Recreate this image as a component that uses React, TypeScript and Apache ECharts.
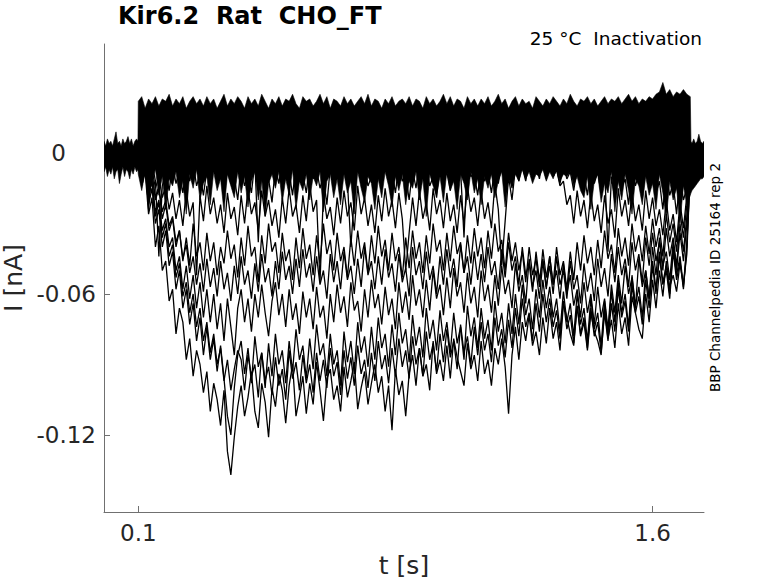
import React, { useEffect, useRef } from "react";
import * as echarts from "echarts";

// ---- axis / labels ----
const X_MIN = 0;
const X_MAX = 1.75;
const Y_MIN = -0.1528;
const Y_MAX = 0.0464;
const X_TICKS = [0.1, 1.6];
const Y_TICKS = [-0.12, -0.06, 0];
const TITLE = "Kir6.2  Rat  CHO_FT";
const SUBTITLE = "25 °C  Inactivation";
const SIDE_NOTE = "BBP Channelpedia ID 25164 rep 2";

// ---- data (currents in pA) ----
// sweep samples: t = 0.10 s ... 1.71 s, every 0.01 s
const T0 = 0.1;
const DT = 0.01;

// baseline before the step (t in s)
const PRE_T = [0, 0.005, 0.01, 0.015, 0.02, 0.025, 0.03, 0.035, 0.04, 0.045, 0.05, 0.055, 0.06, 0.065, 0.07, 0.075, 0.08, 0.085, 0.09, 0.095, 0.099];
const PRE_HI = [5, 3, 6, 4, 5, 3, 6, 9, 4, 5, 3, 6, 4, 5, 7, 4, 6, 3, 5, 6, 5];
const PRE_LO = [-8, -6, -10, -7, -9, -6, -11, -8, -7, -13, -9, -6, -10, -7, -8, -11, -7, -9, -6, -8, -7];

// dense envelope of all sweeps during the step
const BAND_HI = [
  22, 24, 19, 23, 21, 24, 20, 23, 22, 25,
  20, 23, 21, 24, 19, 22, 24, 21, 23, 20,
  24, 21, 23, 19, 22, 25, 20, 23, 21, 24,
  22, 19, 24, 21, 23, 20, 25, 22, 19, 23,
  21, 24, 20, 23, 22, 25, 21, 19, 24, 22,
  23, 20, 22, 25, 21, 24, 19, 23, 22, 20,
  24, 21, 23, 20, 22, 24, 21, 25, 20, 23,
  22, 19, 23, 21, 24, 20, 22, 23, 21, 24,
  20, 23, 22, 19, 24, 21, 23, 20, 22, 25,
  21, 24, 20, 23, 22, 19, 24, 21, 23, 20,
  23, 21, 24, 20, 22, 25, 21, 23, 19, 22,
  24, 20, 23, 21, 22, 19, 24, 22, 20, 23,
  21, 24, 22, 20, 23, 21, 25, 22, 20, 23,
  22, 24, 21, 23, 20, 22, 24, 21, 23, 22,
  24, 21, 23, 25, 22, 24, 21, 23, 22, 24,
  23, 25, 26, 30, 25, 27, 24, 26, 25, 27, 25,
  24,
];
const BAND_LO = [
  -9, -16, -8, -21, -12, -7, -18, -10, -24, -11,
  -14, -8, -19, -12, -26, -9, -15, -7, -20, -13,
  -10, -22, -8, -16, -11, -25, -9, -14, -19, -8,
  -17, -10, -23, -12, -8, -20, -11, -27, -13, -9,
  -15, -8, -21, -11, -18, -7, -24, -12, -16, -9,
  -20, -10, -14, -8, -25, -12, -9, -19, -11, -22,
  -9, -17, -12, -26, -8, -15, -21, -10, -13, -24,
  -11, -19, -8, -14, -23, -10, -16, -9, -22, -12,
  -15, -8, -20, -11, -27, -9, -14, -18, -10, -21,
  -8, -16, -12, -24, -9, -13, -20, -8, -17, -11,
  -22, -10, -15, -9, -19, -12, -8, -23, -11, -14,
  -9, -12, -7, -11, -8, -13, -9, -10, -7, -12,
  -8, -11, -7, -12, -9, -10, -8, -14, -10, -16,
  -19, -10, -24, -12, -9, -21, -13, -17, -8, -25,
  -12, -20, -9, -16, -26, -11, -14, -22, -10, -18,
  -13, -24, -9, -17, -28, -12, -20, -15, -30, -14, -22,
  -18,
];

// tail after the step
const TAIL_T = [1.712, 1.715, 1.72, 1.725, 1.73, 1.735, 1.74, 1.745, 1.75];
const TAIL_HI = [5, 4, 6, 4, 5, 8, 5, 4, 5];
const TAIL_LO = [-17, -16, -15, -14, -13, -12, -11, -11, -10];

// individual sweeps that go inward
const SWEEP_1 = [
  -3, -14, -8, -26, -19, -40, -31, -50, -46, -63,
  -58, -77, -66, -72, -88, -79, -95, -84, -90, -102,
  -93, -110, -98, -105, -116, -101, -127, -137, -121, -108,
  -99, -112, -104, -93, -110, -117, -98, -106, -121, -100,
  -108, -94, -101, -115, -99, -90, -112, -104, -95, -111,
  -98, -107, -89, -101, -114, -96, -92, -105, -99, -110,
  -91, -104, -97, -89, -109, -100, -93, -107, -98, -90,
  -102, -95, -110, -99, -118, -92, -103, -97, -112, -94,
  -86, -99, -83, -95, -90, -101, -80, -94, -88, -97,
  -82, -96, -79, -87, -93, -99, -81, -92, -86, -97,
  -80, -94, -88, -99, -83, -90, -79, -91, -111, -86,
  -74, -88, -72, -80, -69, -82, -76, -86, -70, -81,
  -66, -79, -72, -84, -64, -70, -77, -82, -65, -78,
  -72, -84, -68, -76, -80, -86, -66, -79, -71, -83,
  -64, -77, -70, -82, -61, -68, -75, -79, -60, -72,
  -54, -66, -50, -61, -46, -57, -52, -59, -47, -56, -43,
  -6,
];
const SWEEP_2 = [
  -2, -10, -6, -18, -12, -25, -20, -33, -28, -40,
  -36, -50, -44, -58, -48, -62, -52, -66, -55, -70,
  -58, -72, -60, -75, -64, -80, -62, -74, -86, -66,
  -58, -72, -62, -76, -60, -70, -56, -68, -78, -63,
  -55, -69, -60, -74, -58, -71, -64, -77, -59, -70,
  -62, -75, -57, -70, -65, -79, -60, -72, -56, -68,
  -61, -74, -55, -67, -63, -76, -58, -70, -54, -66,
  -60, -73, -57, -69, -62, -75, -55, -68, -59, -71,
  -52, -65, -58, -70, -54, -67, -50, -62, -56, -69,
  -53, -66, -49, -61, -55, -68, -51, -64, -57, -70,
  -50, -63, -56, -68, -52, -65, -48, -60, -54, -66,
  -47, -59, -52, -64, -45, -57, -50, -62, -46, -58,
  -44, -56, -50, -62, -47, -60, -52, -65, -58, -70,
  -55, -68, -60, -73, -57, -70, -62, -75, -56, -68,
  -52, -64, -48, -60, -53, -66, -45, -57, -50, -62,
  -40, -52, -36, -48, -42, -54, -38, -50, -34, -46, -30,
  -5,
];
const SWEEP_3 = [
  -1, -8, -4, -14, -9, -20, -15, -28, -22, -33,
  -28, -40, -33, -46, -36, -48, -30, -44, -38, -50,
  -34, -46, -38, -52, -40, -47, -33, -45, -39, -53,
  -36, -48, -31, -44, -40, -55, -35, -47, -30, -42,
  -38, -51, -34, -46, -41, -54, -36, -49, -32, -45,
  -39, -52, -35, -47, -30, -43, -37, -50, -34, -46,
  -40, -53, -36, -48, -33, -45, -38, -51, -35, -47,
  -31, -44, -37, -50, -34, -46, -40, -53, -36, -49,
  -33, -45, -38, -51, -35, -47, -30, -42, -37, -50,
  -34, -46, -31, -43, -38, -51, -35, -47, -32, -44,
  -36, -49, -33, -45, -30, -42, -37, -50, -34, -46,
  -38, -50, -42, -55, -40, -52, -45, -57, -41, -53,
  -44, -56, -40, -52, -46, -58, -42, -54, -38, -50,
  -35, -47, -40, -52, -37, -49, -33, -45, -39, -51,
  -32, -44, -36, -48, -30, -42, -35, -46, -31, -43,
  -28, -40, -32, -44, -26, -38, -30, -42, -25, -36, -22,
  -6,
];
const SWEEP_4 = [
  -1, -6, -3, -11, -7, -15, -10, -19, -14, -24,
  -17, -28, -20, -31, -16, -27, -21, -52, -18, -29,
  -14, -26, -19, -30, -22, -34, -17, -28, -23, -35,
  -18, -30, -15, -26, -21, -33, -16, -27, -20, -31,
  -24, -36, -19, -30, -15, -27, -22, -34, -18, -29,
  -13, -25, -20, -55, -17, -28, -23, -35, -19, -30,
  -16, -27, -21, -33, -14, -26, -19, -31, -22, -34,
  -18, -29, -15, -27, -20, -32, -17, -28, -50, -34,
  -19, -31, -16, -28, -21, -33, -15, -26, -20, -32,
  -17, -29, -22, -34, -18, -30, -14, -25, -19, -31,
  -16, -28, -21, -32, -13, -24, -48, -29, -10, -20,
  -6, -12, -4, -10, -3, -9, -5, -11, -2, -8,
  -4, -10, -7, -14, -12, -22, -18, -30, -16, -27,
  -20, -32, -17, -29, -22, -34, -18, -30, -24, -36,
  -15, -27, -20, -31, -17, -29, -22, -33, -16, -28,
  -19, -31, -24, -35, -20, -33, -26, -38, -21, -32, -18,
  -6,
];
const SWEEP_5 = [
  0, -5, -2, -24, -4, -12, -44, -14, -8, -16,
  -5, -13, -8, -17, -6, -12, -4, -14, -9, -18,
  -7, -15, -3, -11, -8, -19, -6, -13, -10, -20,
  -5, -14, -9, -17, -4, -38, -7, -16, -11, -21,
  -6, -13, -3, -10, -8, -18, -5, -12, -9, -17,
  -4, -11, -7, -15, -10, -22, -6, -13, -8, -16,
  -5, -12, -40, -19, -4, -11, -7, -14, -10, -18,
  -6, -13, -3, -10, -8, -17, -5, -12, -9, -20,
  -7, -15, -4, -11, -6, -14, -10, -19, -5, -12,
  -8, -16, -4, -11, -7, -36, -3, -10, -9, -18,
  -5, -12, -8, -17, -6, -13, -4, -11, -7, -15,
  -3, -9, -6, -12, -4, -10, -2, -8, -5, -11,
  -4, -10, -7, -13, -5, -11, -8, -16, -6, -14,
  -9, -18, -5, -13, -8, -17, -6, -42, -10, -20,
  -7, -15, -11, -22, -6, -14, -9, -19, -5, -13,
  -8, -17, -12, -24, -9, -18, -13, -26, -10, -20, -15,
  -6,
];
const SWEEP_6 = [
  -3, -12, -7, -22, -15, -30, -24, -40, -33, -48,
  -42, -58, -50, -66, -58, -73, -64, -80, -70, -86,
  -74, -88, -79, -93, -82, -96, -112, -120, -100, -86,
  -80, -94, -83, -98, -78, -91, -85, -100, -81, -95,
  -77, -90, -84, -98, -80, -93, -75, -88, -82, -96,
  -79, -92, -73, -86, -81, -95, -77, -90, -84, -99,
  -76, -89, -80, -94, -72, -85, -78, -91, -74, -88,
  -70, -83, -77, -91, -73, -86, -68, -81, -75, -89,
  -69, -82, -74, -87, -66, -79, -71, -84, -67, -80,
  -72, -85, -68, -81, -74, -88, -65, -78, -70, -83,
  -66, -79, -71, -84, -63, -76, -68, -81, -64, -77,
  -60, -73, -56, -69, -62, -75, -58, -70, -54, -66,
  -57, -70, -62, -76, -59, -72, -64, -78, -60, -73,
  -66, -80, -62, -75, -68, -82, -63, -77, -59, -72,
  -55, -68, -60, -74, -52, -65, -57, -70, -50, -62,
  -46, -58, -42, -55, -48, -60, -40, -52, -44, -57, -38,
  -7,
];
const SWEEP_7 = [
  -2, -9, -5, -17, -12, -27, -21, -36, -30, -44,
  -39, -53, -47, -61, -55, -68, -60, -74, -66, -80,
  -72, -85, -77, -90, -83, -97, -88, -101, -92, -84,
  -88, -101, -86, -95, -90, -104, -85, -97, -91, -103,
  -87, -99, -92, -105, -84, -96, -89, -101, -86, -98,
  -90, -102, -85, -97, -88, -100, -83, -95, -89, -103,
  -84, -96, -87, -99, -82, -94, -88, -100, -85, -97,
  -80, -92, -86, -98, -83, -95, -79, -91, -84, -96,
  -78, -90, -83, -95, -76, -88, -81, -93, -77, -89,
  -75, -87, -80, -92, -73, -85, -78, -90, -74, -86,
  -72, -84, -77, -89, -70, -82, -75, -87, -71, -83,
  -66, -78, -62, -74, -68, -80, -64, -76, -60, -72,
  -62, -74, -67, -79, -63, -75, -69, -81, -65, -77,
  -70, -83, -66, -78, -72, -85, -68, -80, -64, -76,
  -58, -70, -63, -76, -56, -68, -61, -73, -54, -66,
  -48, -60, -44, -56, -50, -62, -42, -54, -46, -58, -40,
  -7,
];
const SWEEP_8 = [
  -1, -7, -4, -13, -9, -19, -14, -25, -20, -31,
  -27, -38, -33, -45, -39, -51, -44, -56, -47, -59,
  -45, -57, -49, -61, -46, -58, -51, -63, -48, -60,
  -44, -56, -50, -62, -47, -59, -43, -55, -49, -61,
  -46, -58, -42, -54, -48, -60, -45, -57, -41, -53,
  -47, -59, -44, -56, -50, -62, -43, -55, -46, -58,
  -42, -54, -48, -60, -45, -57, -40, -52, -46, -58,
  -44, -56, -41, -53, -47, -59, -43, -55, -49, -61,
  -40, -52, -46, -58, -42, -54, -48, -60, -44, -56,
  -41, -53, -45, -57, -39, -51, -44, -56, -42, -54,
  -43, -55, -40, -52, -46, -58, -41, -53, -38, -50,
  -44, -56, -40, -52, -47, -59, -42, -54, -45, -57,
  -48, -60, -44, -56, -50, -62, -46, -58, -52, -64,
  -47, -59, -51, -63, -45, -57, -49, -61, -43, -55,
  -40, -52, -45, -57, -38, -50, -43, -55, -36, -48,
  -34, -46, -38, -50, -32, -44, -36, -48, -30, -42, -27,
  -6,
];
const SWEEPS = [SWEEP_1, SWEEP_7, SWEEP_6, SWEEP_2, SWEEP_8, SWEEP_3, SWEEP_4, SWEEP_5];

const FONT = "DejaVu Sans";
const TEXT = "#262626";
const AXIS = "#707070";

const toNA = (pA: number) => pA / 1000;
const gridT = (i: number) => Math.round((T0 + i * DT) * 1000) / 1000;

export default function App() {
  const ref = useRef<HTMLDivElement>(null);

  useEffect(() => {
    if (!ref.current) return;
    const chart = echarts.init(ref.current, undefined, { renderer: "svg" });

    const hiPts: number[][] = [
      ...PRE_T.map((t, i) => [t, toNA(PRE_HI[i])]),
      ...BAND_HI.map((v, i) => [gridT(i), toNA(v)]),
      ...TAIL_T.map((t, i) => [t, toNA(TAIL_HI[i])]),
    ];
    const loPts: number[][] = [
      ...PRE_T.map((t, i) => [t, toNA(PRE_LO[i])]),
      ...BAND_LO.map((v, i) => [gridT(i), toNA(v)]),
      ...TAIL_T.map((t, i) => [t, toNA(TAIL_LO[i])]),
    ];

    const sweepSeries = SWEEPS.map((s, k) => ({
      type: "line",
      name: "sweep" + (k + 1),
      data: s.map((v, i) => [gridT(i), toNA(v)]),
      showSymbol: false,
      symbol: "none",
      silent: true,
      lineStyle: { color: "#000", width: 1.3 },
      z: 4,
    }));

    chart.setOption({
      animation: false,
      backgroundColor: "#fff",
      textStyle: { fontFamily: FONT },
      grid: {
        left: 104,
        top: 44,
        width: 600,
        height: 468,
        containLabel: false,
        outerBoundsMode: "none",
      },
      xAxis: {
        type: "value",
        min: X_MIN,
        max: X_MAX,
        name: "t [s]",
        nameLocation: "middle",
        nameGap: 41,
        nameTextStyle: { fontSize: 25, color: TEXT, fontFamily: FONT },
        axisLine: { show: true, onZero: false, lineStyle: { color: AXIS, width: 1 } },
        axisTick: { show: true, inside: true, length: 6, lineStyle: { color: AXIS }, customValues: X_TICKS },
        axisLabel: {
          fontSize: 23,
          color: TEXT,
          fontFamily: FONT,
          margin: 9,
          customValues: X_TICKS,
          formatter: (v: number) => String(v),
        },
        splitLine: { show: false },
      },
      yAxis: {
        type: "value",
        min: Y_MIN,
        max: Y_MAX,
        name: "I [nA]",
        nameLocation: "middle",
        nameGap: 75,
        nameRotate: 90,
        nameTextStyle: { fontSize: 25, color: TEXT, fontFamily: FONT },
        axisLine: { show: true, onZero: false, lineStyle: { color: AXIS, width: 1 } },
        axisTick: { show: true, inside: true, length: 6, lineStyle: { color: AXIS }, customValues: Y_TICKS },
        axisLabel: {
          fontSize: 23,
          color: TEXT,
          fontFamily: FONT,
          margin: 8,
          customValues: Y_TICKS,
          formatter: (v: number) => (Math.abs(v) < 1e-9 ? "{z|0}" : "{n|" + String(v) + "}"),
          rich: {
            z: { fontSize: 23, color: TEXT, fontFamily: FONT, padding: [0, 30, 0, 0] },
            n: { fontSize: 23, color: TEXT, fontFamily: FONT },
          },
        },
        splitLine: { show: false },
      },
      graphic: [
        {
          type: "text",
          left: 118,
          top: 4,
          style: { text: TITLE, font: `bold 24px "${FONT}"`, fill: "#000" },
        },
        {
          type: "text",
          right: 76,
          top: 29,
          style: { text: SUBTITLE, font: `18.5px "${FONT}"`, fill: "#000" },
        },
        {
          type: "text",
          x: 715,
          y: 277.5,
          rotation: Math.PI / 2,
          style: {
            text: SIDE_NOTE,
            font: `13.5px "${FONT}"`,
            fill: "#000",
            align: "center",
            verticalAlign: "middle",
          },
        },
      ],
      series: [
        {
          type: "custom",
          name: "band",
          coordinateSystem: "cartesian2d",
          data: [[0, 0]],
          silent: true,
          clip: true,
          z: 3,
          renderItem: (_params: any, api: any) => {
            const pts = [
              ...hiPts.map((p) => api.coord(p)),
              ...loPts.slice().reverse().map((p) => api.coord(p)),
            ];
            return { type: "polygon", shape: { points: pts }, style: { fill: "#000", stroke: "#000", lineWidth: 0.6 } };
          },
        },
        ...sweepSeries,
      ],
    });

    return () => chart.dispose();
  }, []);

  return (
    <div
      ref={ref}
      style={{ position: "absolute", left: 0, top: 0, width: 778, height: 583 }}
    />
  );
}
